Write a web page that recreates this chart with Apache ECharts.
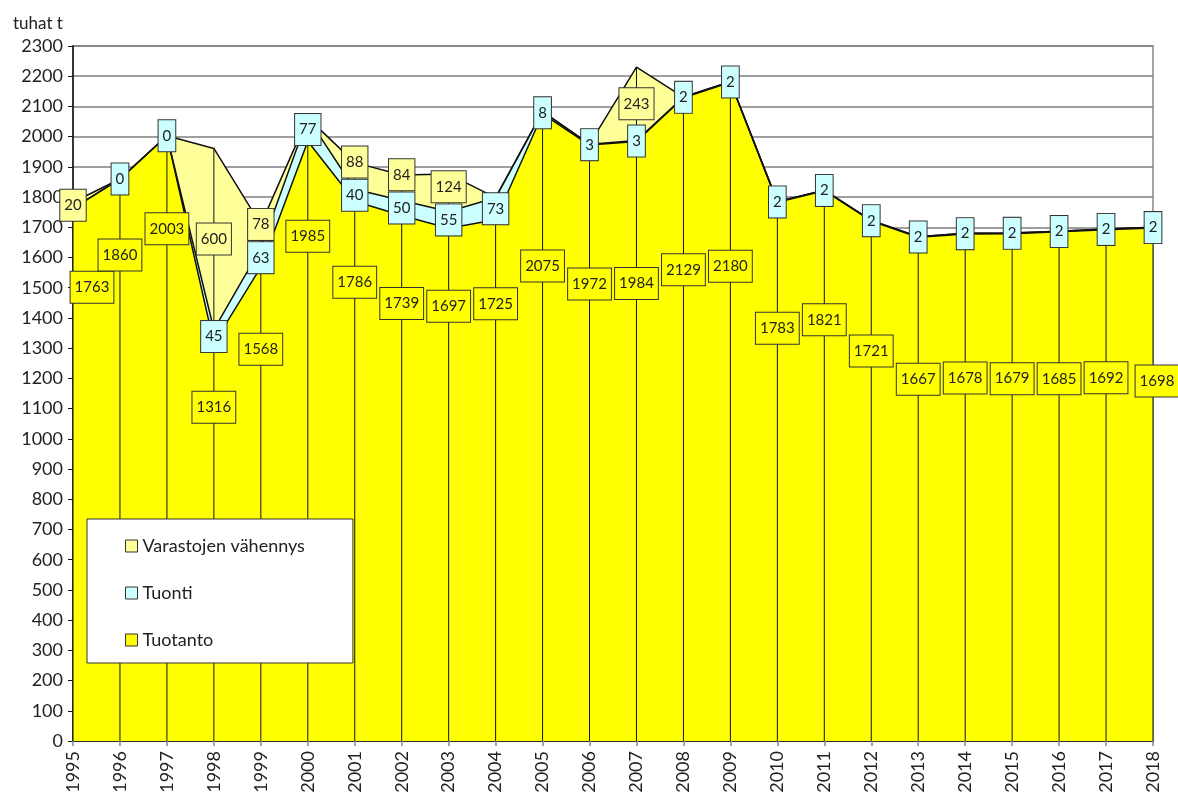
<!DOCTYPE html>
<html>
<head>
<meta charset="utf-8">
<script src="https://cdn.jsdelivr.net/npm/echarts@6/dist/echarts.min.js"></script>
<style>
  html, body { margin: 0; padding: 0; background: #fff; }
  #chart { width: 1178px; height: 805px; }
</style>
</head>
<body>
<div id="chart"></div>
<script>
// --- data (tuhat t) ---
const years = ['1995', '1996', '1997', '1998', '1999', '2000', '2001', '2002', '2003', '2004', '2005', '2006',
  '2007', '2008', '2009', '2010', '2011', '2012', '2013', '2014', '2015', '2016', '2017', '2018']
const tuotanto = [1763, 1860, 2003, 1316, 1568, 1985, 1786, 1739, 1697, 1725, 2075, 1972,
  1984, 2129, 2180, 1783, 1821, 1721, 1667, 1678, 1679, 1685, 1692, 1698]
const tuonti = [null, 0, 0, 45, 63, 77, 40, 50, 55, 73, 8, 3,
  3, 2, 2, 2, 2, 2, 2, 2, 2, 2, 2, 2]
const varastot = [20, null, null, 600, 78, null, 88, 84, 124, null, null, null,
  243, null, null, null, null, null, null, null, null, null, null, null]
const yMin = 0
const yMax = 2300
const yStep = 100

// --- styling ---
const FONT = 'Lato'
const TEXT = '#222'
const C_TUOTANTO = '#ffff00'
const C_TUONTI = '#ccffff'
const C_VARASTOT = '#ffff99'
// pixels the production label sits below its point (labels were hand placed in the original)
const tuotantoLabelDrop = [79, 76, 93, 64, 82, 95, 81, 88, 78, 84, 152, 139,
  142, 172, 184, 126, 129, 130, 142, 144, 145, 147, 148, 153]
// keep the stock label clear of the import label (value units)
const labelGap = 110

const v0 = (v) => (v == null ? 0 : v)
const base = tuotanto.map((t, i) => t + v0(tuonti[i]))
const totals = base.map((b, i) => b + v0(varastot[i]))

function boxLabel(bg) {
  return {
    show: true,
    position: 'inside',
    color: TEXT,
    fontFamily: FONT,
    fontSize: 15,
    lineHeight: 18,
    backgroundColor: bg,
    borderColor: '#333',
    borderWidth: 1,
    padding: [7, 4, 6, 4]
  }
}

function areaSeries(name, data, color) {
  return {
    name,
    type: 'line',
    stack: 'total',
    data: data.map(v0),
    showSymbol: false,
    symbol: 'none',
    lineStyle: { color: '#111', width: 1.5 },
    itemStyle: { color },
    areaStyle: { color, opacity: 1 },
    silent: true,
    z: 2
  }
}

function labelSeries(name, data, bg, formatter, offsets) {
  const last = data.length - 1
  return {
    name,
    type: 'line',
    data: data.map((v, i) => {
      if (v == null) return null
      const item = { value: v }
      if (offsets) {
        // the edge labels are nudged inside the plot, as in the original
        const dx = i === 0 ? 19 : (i === last ? 4 : 0)
        item.label = { offset: [dx, offsets[i]] }
      }
      return item
    }),
    symbol: 'rect',
    symbolSize: 1,
    showSymbol: true,
    showAllSymbol: true,
    itemStyle: { color: 'rgba(0,0,0,0)' },
    lineStyle: { width: 0, opacity: 0 },
    label: Object.assign(boxLabel(bg), { formatter }),
    silent: true,
    z: 5
  }
}

const tuotantoLabelPos = tuotanto.slice()
const tuontiLabelPos = tuonti.map((v, i) => (v == null ? null : tuotanto[i] + v / 2))
const varastotLabelPos = varastot.map((v, i) => {
  if (v == null) return null
  const mid = base[i] + v / 2
  if (tuonti[i] == null) return mid
  return Math.max(mid, tuontiLabelPos[i] + labelGap)
})

const chart = echarts.init(document.getElementById('chart'))

chart.setOption({
  animation: false,
  backgroundColor: '#fff',
  textStyle: { fontFamily: FONT, color: TEXT },
  title: {
    text: 'tuhat t',
    left: 8,
    top: 10,
    textStyle: { fontFamily: FONT, fontSize: 17, fontWeight: 'normal', color: TEXT }
  },
  grid: {
    left: 73,
    right: 25,
    top: 46,
    bottom: 64,
    show: true,
    backgroundColor: '#fff',
    borderColor: '#a6a6a6',
    borderWidth: 2
  },
  legend: {
    data: ['Varastojen vähennys', 'Tuonti', 'Tuotanto'],
    orient: 'vertical',
    left: 87,
    top: 519,
    icon: 'rect',
    itemWidth: 12,
    itemHeight: 12,
    itemGap: 29,
    padding: [18, 48, 14, 38],
    backgroundColor: '#fff',
    borderColor: '#333',
    borderWidth: 1,
    itemStyle: { borderColor: '#333', borderWidth: 1 },
    textStyle: { fontFamily: FONT, fontSize: 18, color: TEXT }
  },
  xAxis: {
    type: 'category',
    data: years,
    boundaryGap: false,
    axisLine: { lineStyle: { color: '#111', width: 1.5 } },
    axisTick: { show: true, interval: 0, length: 5, lineStyle: { color: '#888', width: 1.5 } },
    axisLabel: { interval: 0, rotate: 90, margin: 10, fontFamily: FONT, fontSize: 18, color: TEXT },
    splitLine: { show: false }
  },
  yAxis: {
    type: 'value',
    min: yMin,
    max: yMax,
    interval: yStep,
    axisLine: { show: true, lineStyle: { color: '#111', width: 1.5 } },
    axisTick: { show: true, length: 5, lineStyle: { color: '#111' } },
    axisLabel: {
      margin: 10,
      fontFamily: FONT,
      fontSize: 18,
      color: TEXT,
      formatter: (v) => String(v)
    },
    splitLine: { lineStyle: { color: '#7f7f7f', width: 1.5 } }
  },
  series: [
    areaSeries('Tuotanto', tuotanto, C_TUOTANTO),
    areaSeries('Tuonti', tuonti, C_TUONTI),
    areaSeries('Varastojen vähennys', varastot, C_VARASTOT),
    {
      name: 'drop',
      type: 'bar',
      data: totals,
      barWidth: 1,
      itemStyle: { color: '#111' },
      silent: true,
      z: 3
    },
    labelSeries('lblTuotanto', tuotantoLabelPos, C_TUOTANTO,
      (p) => String(tuotanto[p.dataIndex]), tuotantoLabelDrop),
    labelSeries('lblTuonti', tuontiLabelPos, C_TUONTI,
      (p) => String(tuonti[p.dataIndex])),
    labelSeries('lblVarastot', varastotLabelPos, C_VARASTOT,
      (p) => String(varastot[p.dataIndex]))
  ]
})
</script>
</body>
</html>
